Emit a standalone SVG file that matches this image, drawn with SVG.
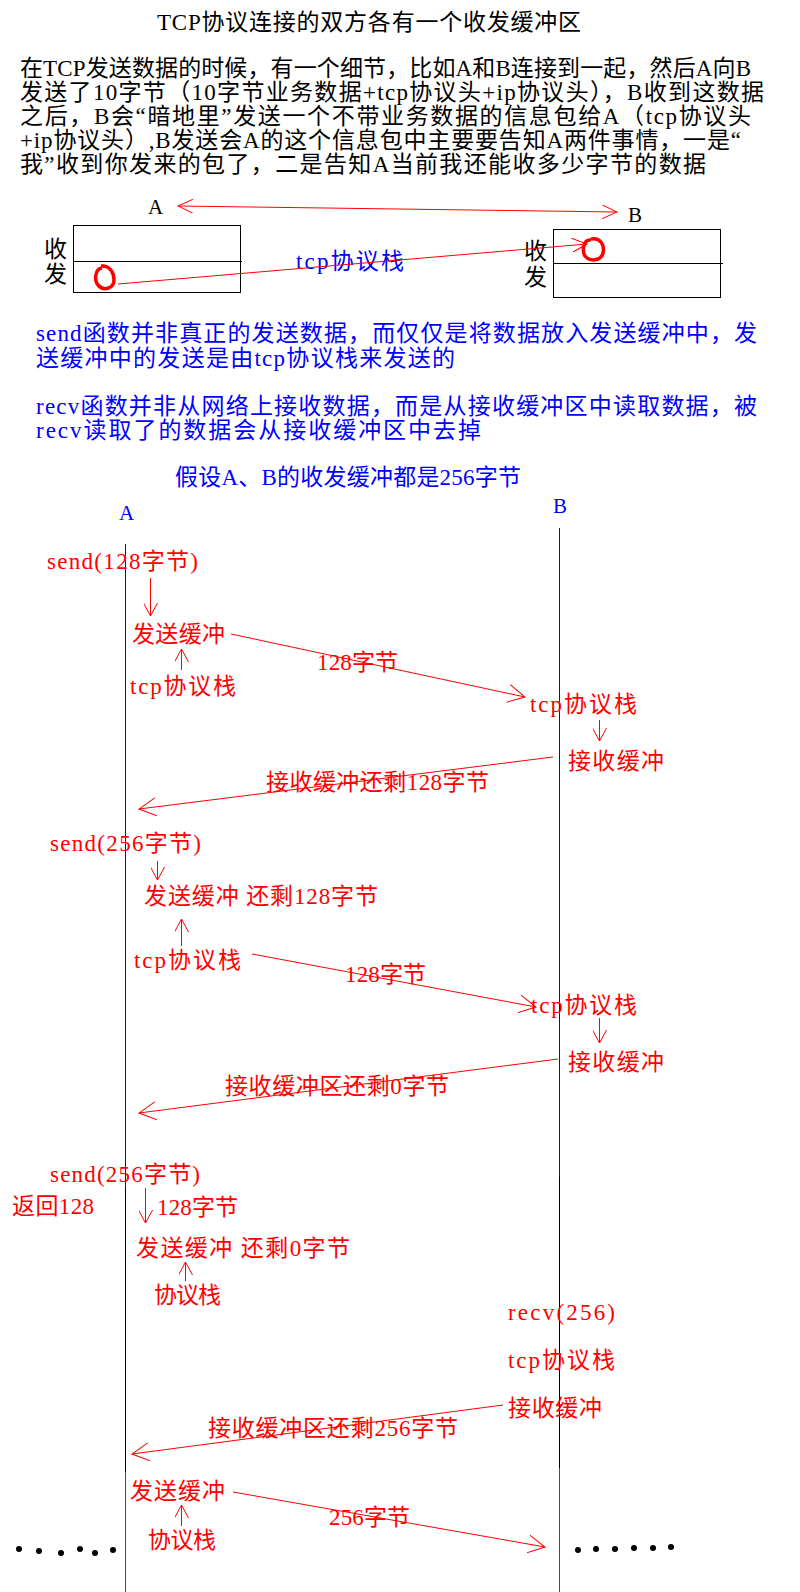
<svg xmlns="http://www.w3.org/2000/svg" width="800" height="1592" viewBox="0 0 800 1592">
<style>
.t{font-family:"Liberation Serif","Noto Sans CJK SC",serif;font-size:23px}
.r{fill:#f00}.b{fill:#00f}.k{fill:#000}
.lr{stroke:#f00;stroke-width:1;fill:none}
.lb{stroke:#00f;stroke-width:1;fill:none}
.lk{stroke:#000;stroke-width:1;fill:none}
.ah{marker-end:url(#ah)}
.as{marker-end:url(#as)}
.circ{stroke:#f00;stroke-width:3.5;fill:none}
</style>
<defs>
<marker id="ah" viewBox="0 0 18 20" refX="17" refY="10" markerWidth="18" markerHeight="20" markerUnits="userSpaceOnUse" orient="auto-start-reverse"><path d="M0,1 L17,10 L0,19" fill="none" stroke="#f00" stroke-width="1"/></marker>
<marker id="at" viewBox="0 0 16 14" refX="15" refY="7" markerWidth="16" markerHeight="14" markerUnits="userSpaceOnUse" orient="auto-start-reverse"><path d="M0,0 L15,7 L0,14" fill="none" stroke="#f00" stroke-width="1"/></marker>
<marker id="as" viewBox="0 0 14 14" refX="13" refY="7" markerWidth="14" markerHeight="14" markerUnits="userSpaceOnUse" orient="auto"><path d="M0,0 L13,7 L0,14" fill="none" stroke="#f00" stroke-width="1"/></marker>
</defs>
<rect width="800" height="1592" fill="#fff"/>

<g id="intro">
<text class="t k" x="157" y="30" textLength="424">TCP协议连接的双方各有一个收发缓冲区</text>
<text class="t k" x="20" y="76" textLength="731">在TCP发送数据的时候，有一个细节，比如A和B连接到一起，然后A向B</text>
<text class="t k" x="20" y="100" textLength="744">发送了10字节（10字节业务数据+tcp协议头+ip协议头），B收到这数据</text>
<text class="t k" x="20" y="124" textLength="731">之后，B会“暗地里”发送一个不带业务数据的信息包给A（tcp协议头</text>
<text class="t k" x="20" y="148" textLength="721">+ip协议头）,B发送会A的这个信息包中主要要告知A两件事情，一是“</text>
<text class="t k" x="20" y="172" textLength="686">我”收到你发来的包了，二是告知A当前我还能收多少字节的数据</text>
</g>

<g id="nodeA-top">
<text class="t k" x="148" y="214" style="font-size:21px">A</text>
<rect x="73.5" y="225.5" width="167" height="67" class="lk"/>
<line x1="73.5" y1="261.5" x2="242" y2="261.5" class="lk"/>
<text class="t k" x="44" y="257">收</text>
<text class="t k" x="44" y="282">发</text>
<path class="circ" d="M102,268 C95,269 94,280 98,285 C104,292 114,288 114,280 C114,273 110,265 101,266"/>
</g>

<g id="nodeB-top">
<text class="t k" x="628" y="222" style="font-size:21px">B</text>
<rect x="553.5" y="229.5" width="167" height="68" class="lk"/>
<line x1="553.5" y1="263.5" x2="723" y2="263.5" class="lk"/>
<text class="t k" x="524" y="259">收</text>
<text class="t k" x="524" y="285">发</text>
<path class="circ" d="M591,240 C583,239 582,251 585,256 C590,262 601,261 603,253 C605,245 600,237 591,239"/>
</g>

<g id="notes">
<text class="t b" x="296" y="269" textLength="108">tcp协议栈</text>
<text class="t b" x="36" y="341" textLength="721">send函数并非真正的发送数据，而仅仅是将数据放入发送缓冲中，发</text>
<text class="t b" x="36" y="366" textLength="419">送缓冲中的发送是由tcp协议栈来发送的</text>
<text class="t b" x="36" y="414" textLength="721">recv函数并非从网络上接收数据，而是从接收缓冲区中读取数据，被</text>
<text class="t b" x="36" y="438" textLength="445">recv读取了的数据会从接收缓冲区中去掉</text>
<text class="t b" x="175" y="485" textLength="346">假设A、B的收发缓冲都是256字节</text>
</g>

<g id="lifelineA">
<text class="t b" x="119" y="520" style="font-size:21px">A</text>
<line x1="125.5" y1="544" x2="125.5" y2="1188" class="lb"/>
<line x1="125.5" y1="1188" x2="125.5" y2="1472" class="lk"/>
<line x1="125.5" y1="1472" x2="125.5" y2="1592" class="lr"/>
</g>

<g id="lifelineB">
<text class="t b" x="553" y="513" style="font-size:21px">B</text>
<line x1="559.5" y1="528" x2="559.5" y2="1177" class="lb"/>
<line x1="559.5" y1="1177" x2="559.5" y2="1468" class="lk"/>
<line x1="559.5" y1="1468" x2="559.5" y2="1592" class="lr"/>
</g>

<g id="step1">
<text class="t r" x="47" y="569" textLength="151">send(128字节)</text>
<text class="t r" x="132" y="642" textLength="93">发送缓冲</text>
<text class="t r" x="130" y="694" textLength="106">tcp协议栈</text>
<text class="t r" x="317" y="670" textLength="81">128字节</text>
<text class="t r" x="530" y="712" textLength="107">tcp协议栈</text>
<text class="t r" x="568" y="769" textLength="96">接收缓冲</text>
<text class="t r" x="266" y="790" textLength="223">接收缓冲还剩128字节</text>
</g>

<g id="step2">
<text class="t r" x="50" y="851" textLength="151">send(256字节)</text>
<text class="t r" x="144" y="904" textLength="234">发送缓冲 还剩128字节</text>
<text class="t r" x="134" y="968" textLength="107">tcp协议栈</text>
<text class="t r" x="345" y="982" textLength="81">128字节</text>
<text class="t r" x="531" y="1013" textLength="106">tcp协议栈</text>
<text class="t r" x="568" y="1070" textLength="96">接收缓冲</text>
<text class="t r" x="225" y="1094" textLength="224">接收缓冲区还剩0字节</text>
</g>

<g id="step3">
<text class="t r" x="50" y="1182" textLength="150">send(256字节)</text>
<text class="t r" x="12" y="1214" textLength="82">返回128</text>
<text class="t r" x="157" y="1215" textLength="81">128字节</text>
<text class="t r" x="136" y="1256" textLength="214">发送缓冲  还剩0字节</text>
<text class="t r" x="154" y="1303" textLength="67">协议栈</text>
<text class="t r" x="508" y="1320" textLength="107">recv(256)</text>
<text class="t r" x="508" y="1368" textLength="107">tcp协议栈</text>
<text class="t r" x="508" y="1416" textLength="94">接收缓冲</text>
<text class="t r" x="208" y="1436" textLength="250">接收缓冲区还剩256字节</text>
</g>

<g id="step4">
<text class="t r" x="130" y="1499" textLength="95">发送缓冲</text>
<text class="t r" x="329" y="1525" textLength="81">256字节</text>
<text class="t r" x="148" y="1548" textLength="68">协议栈</text>
<g id="dots" fill="#000">
<circle cx="19" cy="1549" r="3"/><circle cx="39" cy="1551" r="3"/><circle cx="61" cy="1553" r="3"/><circle cx="80" cy="1549" r="3"/><circle cx="95" cy="1553" r="3"/><circle cx="113" cy="1550" r="3"/>
<circle cx="578" cy="1550" r="3"/><circle cx="596" cy="1549" r="3"/><circle cx="615" cy="1549" r="3"/><circle cx="634" cy="1548" r="3"/><circle cx="653" cy="1548" r="3"/><circle cx="671" cy="1547" r="3"/>
</g>
</g>

<g id="connectors">
<line x1="178" y1="206" x2="617" y2="212" class="lr" style="marker-start:url(#at);marker-end:url(#at)"/>
<line x1="118" y1="284" x2="587" y2="244" class="lr" style="marker-end:url(#at)"/>
<line x1="150.5" y1="578" x2="150.5" y2="616" class="lr as"/>
<line x1="181.5" y1="670" x2="181.5" y2="649" class="lr as"/>
<line x1="231" y1="634" x2="525" y2="697" class="lr ah"/>
<line x1="599.5" y1="720" x2="599.5" y2="741" class="lr as"/>
<line x1="553" y1="757" x2="139" y2="809" class="lr ah"/>
<line x1="157.5" y1="861" x2="157.5" y2="880" class="lr as"/>
<line x1="181.5" y1="946" x2="181.5" y2="919" class="lr as"/>
<line x1="252" y1="954" x2="536" y2="1007" class="lr ah"/>
<line x1="599.5" y1="1018" x2="599.5" y2="1043" class="lr as"/>
<line x1="558" y1="1059" x2="139" y2="1113" class="lr ah"/>
<line x1="145.5" y1="1188" x2="145.5" y2="1223" class="lr as"/>
<line x1="185.5" y1="1281" x2="185.5" y2="1262" class="lr as"/>
<line x1="503" y1="1405" x2="132" y2="1454" class="lr ah"/>
<line x1="233" y1="1492" x2="545" y2="1547" class="lr ah"/>
<line x1="181.5" y1="1526" x2="181.5" y2="1505" class="lr as"/>
</g>
</svg>
